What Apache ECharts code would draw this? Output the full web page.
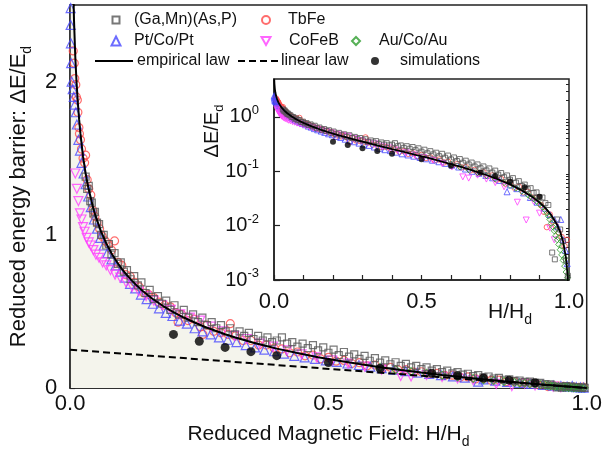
<!DOCTYPE html>
<html><head><meta charset="utf-8">
<script src="https://cdn.jsdelivr.net/npm/echarts@6/dist/echarts.min.js"></script>
<style>html,body{margin:0;padding:0;background:#fff}#c{width:605px;height:454px}</style>
</head><body><div id="c"></div>
<script>
// ---------- data ----------
const curveH = [0.0008,0.0015,0.003,0.005,0.0075,0.01,0.0125,0.015,0.0175,0.02,0.025,0.03,0.035,0.04,0.045,0.05,0.06,0.07,0.08,0.09,0.1,0.11,0.12,0.13,0.14,0.15,0.16,0.18,0.2,0.22,0.24,0.26,0.28,0.3,0.32,0.34,0.36,0.38,0.4,0.44,0.48,0.52,0.56,0.6,0.64,0.68,0.72,0.76,0.8,0.84,0.88,0.9,0.92,0.94,0.96,0.97,0.98,0.99,0.995,0.998,1.0];
const curveV = [4.95,4.08,3.27,2.76,2.40,2.16,1.99,1.86,1.75,1.66,1.51,1.40,1.31,1.24,1.17,1.115,1.02,0.944,0.880,0.826,0.778,0.737,0.699,0.665,0.635,0.607,0.581,0.535,0.495,0.460,0.429,0.400,0.375,0.351,0.330,0.310,0.291,0.274,0.257,0.228,0.201,0.178,0.156,0.136,0.118,0.101,0.0856,0.071,0.0574,0.0446,0.0325,0.0267,0.0211,0.0156,0.0103,0.0077,0.0051,0.0025,0.00125,0.0005,0];
const linearH = [0, 1];
const linearV = [0.25, 0];
const simH = [0.2,0.25,0.3,0.35,0.4,0.5,0.6,0.7,0.75,0.8,0.85,0.9];
const simV = [0.35,0.305,0.265,0.237,0.211,0.166,0.127,0.0955,0.082,0.065,0.051,0.034];

const gaMnAsP = [[0.030,1.38],[0.033,1.30],[0.036,1.32],[0.039,1.22],[0.042,1.21],[0.045,1.14],[0.048,1.15],[0.052,1.08],[0.056,1.07],[0.060,1.00],[0.065,1.00],[0.070,0.93],[0.075,0.94],[0.080,0.87],[0.086,0.88],[0.092,0.81],[0.098,0.82],[0.104,0.76],[0.110,0.77],[0.117,0.71],[0.124,0.73],[0.131,0.67],[0.138,0.69],[0.146,0.62],[0.154,0.64],[0.162,0.58],[0.170,0.60],[0.178,0.55],[0.186,0.57],[0.194,0.51],[0.202,0.54],[0.211,0.48],[0.220,0.51],[0.229,0.46],[0.238,0.48],[0.247,0.43],[0.256,0.46],[0.265,0.41],[0.274,0.43],[0.283,0.39],[0.292,0.41],[0.301,0.37],[0.310,0.39],[0.319,0.35],[0.328,0.37],[0.337,0.34],[0.346,0.36],[0.355,0.32],[0.364,0.34],[0.373,0.31],[0.382,0.33],[0.391,0.30],[0.400,0.31],[0.41,0.33],[0.42,0.29],[0.43,0.30],[0.44,0.27],[0.45,0.29],[0.46,0.26],[0.47,0.28],[0.48,0.245],[0.49,0.265],[0.50,0.23],[0.51,0.25],[0.52,0.215],[0.53,0.235],[0.54,0.205],[0.55,0.22],[0.56,0.19],[0.57,0.21],[0.58,0.178],[0.59,0.195],[0.60,0.166],[0.61,0.18],[0.62,0.155],[0.63,0.168],[0.64,0.144],[0.65,0.157],[0.66,0.134],[0.67,0.145],[0.68,0.123],[0.69,0.134],[0.70,0.114],[0.71,0.123],[0.72,0.104],[0.73,0.113],[0.74,0.095],[0.75,0.103],[0.76,0.087],[0.77,0.093],[0.78,0.078],[0.79,0.084],[0.80,0.070],[0.81,0.075],[0.82,0.062],[0.83,0.066],[0.84,0.054],[0.85,0.057],[0.86,0.047],[0.87,0.049],[0.88,0.040],[0.89,0.041],[0.90,0.033],[0.91,0.033],[0.92,0.026],[0.93,0.024],[0.943,0.0032],[0.952,0.0024],[0.96,0.013],[0.97,0.0085],[0.98,0.0052],[0.99,0.0023],[0.996,0.0012]];
const tbFe = [[0.006,2.20],[0.008,2.12],[0.009,2.02],[0.011,1.98],[0.012,1.90],[0.014,1.88],[0.015,1.80],[0.017,1.70],[0.018,1.66],[0.020,1.62],[0.022,1.56],[0.025,1.50],[0.028,1.47],[0.030,1.52],[0.033,1.36],[0.036,1.30],[0.040,1.26],[0.044,1.16],[0.048,1.12],[0.052,1.08],[0.057,1.04],[0.062,0.99],[0.068,0.96],[0.074,0.94],[0.080,0.90],[0.086,0.96],[0.093,0.82],[0.100,0.80],[0.108,0.74],[0.116,0.73],[0.125,0.69],[0.134,0.66],[0.143,0.62],[0.152,0.61],[0.162,0.59],[0.172,0.56],[0.183,0.54],[0.194,0.53],[0.205,0.49],[0.209,0.43],[0.216,0.48],[0.228,0.44],[0.240,0.45],[0.252,0.40],[0.257,0.35],[0.265,0.41],[0.278,0.37],[0.292,0.36],[0.306,0.35],[0.31,0.42],[0.320,0.34],[0.335,0.31],[0.350,0.31],[0.365,0.28],[0.380,0.28],[0.395,0.26],[0.410,0.255],[0.425,0.23],[0.440,0.235],[0.455,0.21],[0.470,0.215],[0.485,0.19],[0.500,0.20],[0.515,0.175],[0.530,0.18],[0.545,0.16],[0.560,0.165],[0.575,0.145],[0.590,0.15],[0.605,0.13],[0.620,0.135],[0.635,0.118],[0.650,0.12],[0.665,0.104],[0.680,0.106],[0.695,0.092],[0.710,0.096],[0.725,0.082],[0.740,0.084],[0.755,0.070],[0.770,0.072],[0.785,0.059],[0.800,0.062],[0.815,0.050],[0.830,0.052],[0.845,0.041],[0.860,0.042],[0.875,0.033],[0.890,0.032],[0.905,0.024],[0.915,0.018],[0.925,0.0094],[0.935,0.016],[0.945,0.012],[0.955,0.010],[0.965,0.0075],[0.975,0.0062],[0.985,0.0042],[0.993,0.0055]];
const ptCoPt = [[0.001,2.48],[0.001,2.37],[0.0015,2.25],[0.002,2.12],[0.003,2.00],[0.005,1.95],[0.007,1.90],[0.009,1.85],[0.011,1.80],[0.013,1.72],[0.016,1.62],[0.019,1.55],[0.022,1.47],[0.026,1.40],[0.030,1.33],[0.035,1.25],[0.040,1.18],[0.046,1.10],[0.052,1.04],[0.058,0.98],[0.065,0.93],[0.072,0.88],[0.080,0.84],[0.088,0.80],[0.097,0.76],[0.106,0.72],[0.116,0.68],[0.126,0.65],[0.137,0.61],[0.148,0.58],[0.160,0.55],[0.172,0.52],[0.185,0.49],[0.198,0.47],[0.212,0.44],[0.226,0.42],[0.241,0.39],[0.256,0.37],[0.272,0.35],[0.288,0.33],[0.305,0.315],[0.322,0.30],[0.340,0.28],[0.358,0.265],[0.376,0.25],[0.395,0.24],[0.414,0.225],[0.434,0.21],[0.454,0.20],[0.474,0.19],[0.495,0.18],[0.516,0.17],[0.537,0.16],[0.559,0.15],[0.581,0.14],[0.603,0.13],[0.626,0.12],[0.649,0.11],[0.672,0.10],[0.695,0.092],[0.718,0.084],[0.741,0.076],[0.764,0.068],[0.790,0.042],[0.800,0.056],[0.823,0.048],[0.846,0.040],[0.869,0.033],[0.892,0.027],[0.915,0.021],[0.935,0.016],[0.950,0.013],[0.962,0.0095],[0.972,0.013],[0.980,0.0055],[0.988,0.0035],[0.994,0.002]];
const coFeB = [[0.010,1.40],[0.013,1.30],[0.016,1.22],[0.019,1.14],[0.022,1.10],[0.025,1.05],[0.028,1.02],[0.032,0.98],[0.036,0.95],[0.040,0.93],[0.045,0.90],[0.050,0.87],[0.056,0.85],[0.063,0.82],[0.070,0.80],[0.078,0.77],[0.087,0.74],[0.097,0.72],[0.108,0.69],[0.120,0.66],[0.133,0.63],[0.147,0.60],[0.162,0.57],[0.178,0.54],[0.195,0.51],[0.213,0.48],[0.232,0.46],[0.252,0.44],[0.273,0.40],[0.295,0.37],[0.318,0.34],[0.342,0.32],[0.367,0.29],[0.393,0.27],[0.420,0.245],[0.448,0.22],[0.477,0.20],[0.507,0.18],[0.538,0.16],[0.570,0.14],[0.603,0.12],[0.640,0.079],[0.660,0.075],[0.690,0.085],[0.720,0.072],[0.750,0.062],[0.780,0.052],[0.825,0.027],[0.855,0.0127],[0.880,0.028],[0.900,0.017],[0.935,0.009],[0.950,0.0055]];
const auCoAu = [[0.60,0.135],[0.63,0.12],[0.66,0.107],[0.69,0.095],[0.72,0.083],[0.75,0.072],[0.78,0.062],[0.80,0.055],[0.82,0.049],[0.84,0.043],[0.86,0.037],[0.87,0.034],[0.88,0.031],[0.89,0.028],[0.90,0.025],[0.91,0.022],[0.92,0.019],[0.925,0.017],[0.93,0.015],[0.935,0.013],[0.94,0.011],[0.945,0.0095],[0.95,0.008],[0.955,0.0065],[0.96,0.0055],[0.965,0.0045],[0.97,0.0036],[0.975,0.0029],[0.98,0.0023],[0.985,0.0018],[0.99,0.0014],[0.995,0.0011],[0.985,0.0025],[0.975,0.0042],[0.965,0.006],[0.955,0.0085]];

const mainXLabels = [0, 0.5, 1];
const mainYLabels = [0, 1, 2];
const insetXLabels = [0, 0.5, 1];
const insetYLabels = [0.001, 0.01, 0.1, 1];
const insetYMinor = [0.002,0.003,0.004,0.005,0.006,0.007,0.008,0.009,0.02,0.03,0.04,0.05,0.06,0.07,0.08,0.09,0.2,0.3,0.4,0.5,0.6,0.7,0.8,0.9,2,3,4];

// ---------- chart ----------
const F = '"Liberation Sans", Arial, sans-serif';
const pairs = (h, v) => h.map((x, i) => [x, v[i]]);
const hollow = (c, w) => ({ color: 'transparent', borderColor: c, borderWidth: w });
const has = (arr, v) => arr.some(a => Math.abs(a - v) < 1e-9 * Math.max(1, Math.abs(a)));

const mats = [
  { name: 'TbFe', data: tbFe, symbol: 'circle', size: 8, isize: 5.5, color: '#ff4848' },
  { name: 'Pt/Co/Pt', data: ptCoPt, symbol: 'triangle', size: 9, isize: 6, color: '#4848ff' },
  { name: 'CoFeB', data: coFeB, symbol: 'triangle', rotate: 180, size: 9, isize: 6, color: '#ff40ff' },
  { name: 'Au/Co/Au', data: auCoAu, symbol: 'diamond', size: 8, isize: 6, color: '#2c9c2c' },
  { name: '(Ga,Mn)(As,P)', data: gaMnAsP, symbol: 'rect', size: 7, isize: 5, color: '#555555' }
];

const curve = pairs(curveH, curveV);
const series = [];
series.push({ type: 'line', name: 'area', xAxisIndex: 0, yAxisIndex: 0, data: curve, symbol: 'none', silent: true,
  lineStyle: { width: 0 }, areaStyle: { color: '#f4f4ec', opacity: 1 }, z: 1 });
mats.forEach(m => series.push({ type: 'scatter', name: m.name, xAxisIndex: 0, yAxisIndex: 0, data: m.data,
  symbol: m.symbol, symbolRotate: m.rotate || 0, symbolSize: m.size, itemStyle: hollow(m.color, 1.2), z: 2 }));
series.push({ type: 'line', name: 'empirical law', xAxisIndex: 0, yAxisIndex: 0, data: curve, symbol: 'none',
  itemStyle: { color: '#000' }, lineStyle: { color: '#000', width: 2 }, z: 3 });
series.push({ type: 'line', name: 'linear law', xAxisIndex: 0, yAxisIndex: 0, data: pairs(linearH, linearV), symbol: 'none',
  itemStyle: { color: '#000' }, lineStyle: { color: '#000', width: 2, type: [7, 4] }, z: 3 });
series.push({ type: 'scatter', name: 'simulations', xAxisIndex: 0, yAxisIndex: 0, data: pairs(simH, simV),
  symbol: 'circle', symbolSize: 9, itemStyle: { color: '#000' }, z: 3 });
// inset
mats.forEach(m => series.push({ type: 'scatter', name: m.name, xAxisIndex: 1, yAxisIndex: 1, data: m.data.filter(p => p[1] > 0),
  symbol: m.symbol, symbolRotate: m.rotate || 0, symbolSize: m.isize, itemStyle: hollow(m.color, 1), z: 6 }));
series.push({ type: 'line', name: 'empirical law', xAxisIndex: 1, yAxisIndex: 1, data: curve.filter(p => p[1] > 0), symbol: 'none',
  itemStyle: { color: '#000' }, lineStyle: { color: '#000', width: 1.8 }, z: 7 });
series.push({ type: 'scatter', name: 'simulations', xAxisIndex: 1, yAxisIndex: 1, data: pairs(simH, simV),
  symbol: 'circle', symbolSize: 6, itemStyle: { color: '#000' }, z: 7 });

const lbl = { fontFamily: F, color: '#111' };
const axLine = { show: true, lineStyle: { color: '#222', width: 1.5 } };
const subRich = (fs, lh, sfs) => ({ a: { fontSize: fs, fontFamily: F, color: '#111', lineHeight: lh },
  s: { fontSize: sfs, fontFamily: F, color: '#111', lineHeight: sfs, verticalAlign: 'bottom' } });

// legend layout: icon centre x (cx), icon size, text start x (tx), row centre y
const legendDefs = [
  { name: '(Ga,Mn)(As,P)', cx: 115, s: 7, tx: 133, y: 20 },
  { name: 'TbFe', cx: 265, s: 8, tx: 287, y: 20 },
  { name: 'Pt/Co/Pt', cx: 115, s: 9, tx: 133, y: 41 },
  { name: 'CoFeB', cx: 265, s: 9, tx: 288, y: 41, icon: 'path://M0,0L10,0L5,8.66Z' },
  { name: 'Au/Co/Au', cx: 355, s: 8, tx: 378, y: 41 },
  { name: 'simulations', cx: 375, s: 8, tx: 400, y: 61 }
];
const legendTxt = { fontSize: 16, fontFamily: F, color: '#111', lineHeight: 20 };
const legend = legendDefs.map(d => ({ data: [d.icon ? { name: d.name, icon: d.icon } : d.name], left: d.cx - d.s / 2, top: d.y - 10, itemWidth: d.s, itemHeight: d.s,
  padding: 0, selectedMode: false,
  textStyle: Object.assign({ padding: [0, 0, 0, d.tx - (d.cx + d.s / 2 + 5)] }, legendTxt) }));
legend.push({ data: [{ name: 'empirical law', icon: 'path://M0,0H38V2H0Z' }], left: 95, top: 51, itemWidth: 38, itemHeight: 2,
  padding: 0, selectedMode: false, itemStyle: { color: '#000' }, textStyle: Object.assign({ padding: [0, 0, 0, -1] }, legendTxt) });
legend.push({ data: [{ name: 'linear law', icon: 'path://M0,0H7V2H0Z M11,0H18V2H11Z M22,0H29V2H22Z M33,0H40V2H33Z' }], left: 238, top: 51, itemWidth: 40, itemHeight: 2,
  padding: 0, selectedMode: false, itemStyle: { color: '#000' }, textStyle: Object.assign({ padding: [0, 0, 0, -2] }, legendTxt) });

const option = {
  animation: false,
  backgroundColor: '#fff',
  legend: legend,
  grid: [
    { left: 68, top: 5, width: 521, height: 387, show: true, borderColor: '#222', borderWidth: 1.5, backgroundColor: '#fff', z: 0 },
    { left: 274, top: 79, width: 295, height: 201, show: true, borderColor: '#222', borderWidth: 1.5, backgroundColor: '#fff', z: 5 }
  ],
  xAxis: [
    { gridIndex: 0, type: 'value', min: 0, max: 1, interval: 0.1, axisLine: axLine,
      axisTick: { inside: true, length: 5, lineStyle: { color: '#222', width: 1.2 } },
      axisLabel: Object.assign({ customValues: mainXLabels, formatter: v => has(mainXLabels, v) ? v.toFixed(1) : '', fontSize: 22, margin: 5 }, lbl),
      splitLine: { show: false },
      name: '{a|Reduced Magnetic Field: H/H}{s|d}', nameLocation: 'middle', nameGap: 31,
      nameTextStyle: { rich: subRich(21, 30, 14) } },
    { gridIndex: 1, type: 'value', min: 0, max: 1, interval: 0.1, axisLine: axLine, z: 6,
      axisTick: { inside: true, length: 5, lineStyle: { color: '#222', width: 1.2 } },
      axisLabel: Object.assign({ customValues: insetXLabels, formatter: v => has(insetXLabels, v) ? v.toFixed(1) : '', fontSize: 22, margin: 11 }, lbl),
      splitLine: { show: false },
      name: '{a|H/H}{s|d}', nameLocation: 'end', nameGap: -37,
      nameTextStyle: { align: 'right', verticalAlign: 'top', padding: [17, 0, 0, 0], rich: subRich(21, 30, 14) } }
  ],
  yAxis: [
    { gridIndex: 0, type: 'value', min: 0, max: 2.5, interval: 0.5, axisLine: axLine,
      axisTick: { inside: true, length: 5, lineStyle: { color: '#222', width: 1.2 } },
      axisLabel: Object.assign({ customValues: mainYLabels, formatter: v => has(mainYLabels, v) ? String(v) : '', fontSize: 22, margin: 13 }, lbl),
      splitLine: { show: false },
      name: '{a|Reduced energy barrier: ΔE/E}{s|d}', nameLocation: 'middle', nameGap: 30,
      nameTextStyle: { rich: subRich(22, 30, 14) } },
    { gridIndex: 1, type: 'log', logBase: 10, min: 0.001, max: 5, axisLine: axLine, z: 6,
      axisTick: { inside: true, length: 6, customValues: insetYLabels, lineStyle: { color: '#222', width: 1.2 } },
      axisLabel: { customValues: insetYLabels,
        formatter: v => { if (!has(insetYLabels, v)) return ''; const e = Math.round(Math.log10(v)); return '{b|10}{p|' + e + '}'; },
        margin: 15,
        rich: { b: { fontSize: 20, fontFamily: F, color: '#111', lineHeight: 26 },
                p: { fontSize: 13, fontFamily: F, color: '#111', lineHeight: 13, verticalAlign: 'top' } } },
      splitLine: { show: false },
      name: '{a|ΔE/E}{s|d}', nameLocation: 'end', nameRotate: 90, nameGap: -54,
      nameTextStyle: { align: 'center', verticalAlign: 'bottom', padding: [0, 0, 48, 0], rich: subRich(20, 28, 13) } },
    { gridIndex: 1, type: 'log', logBase: 10, min: 0.001, max: 5, z: 6,
      axisLine: { show: false },
      axisTick: { inside: true, length: 3, customValues: insetYMinor, lineStyle: { color: '#222', width: 1 } },
      axisLabel: { show: false }, splitLine: { show: false } }
  ],
  series: series
};

const chart = echarts.init(document.getElementById('c'), null, { renderer: 'canvas' });
chart.setOption(option);
</script>
</body></html>
